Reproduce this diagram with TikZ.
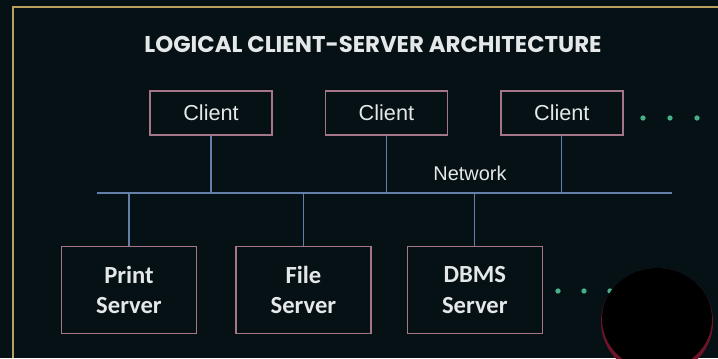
\documentclass[tikz,border=0pt]{standalone}
\usepackage{fontspec}
\setmainfont{Liberation Sans}
\newfontfamily\titlefont{Poppins}
\newfontfamily\serverfont{Carlito}
\usetikzlibrary{positioning}
\definecolor{bgcol}{RGB}{6,17,21}
\definecolor{framecol}{RGB}{185,160,95}
\definecolor{boxcol}{RGB}{165,118,138}
\definecolor{netcol}{RGB}{100,128,168}
\definecolor{txtcol}{RGB}{228,232,232}
\definecolor{dotcol}{RGB}{70,175,135}
\definecolor{rimcol}{RGB}{110,20,40}

\begin{document}
\begin{tikzpicture}[
  x=0.03cm, y=-0.03cm,
  node distance=1.56cm,
  clientbox/.style={draw=boxcol,line width=1.2pt,minimum width=3.66cm,minimum height=1.32cm,
    text=txtcol,font=\fontsize{18.5}{20}\selectfont},
  serverbox/.style={draw=boxcol,line width=1.2pt,minimum width=4.05cm,minimum height=2.61cm,
    text=txtcol,align=center,font=\serverfont\bfseries\fontsize{21}{26}\selectfont},
  netline/.style={draw=netcol,line width=1pt},
  dotty/.style={fill=dotcol,circle,inner sep=0pt,minimum size=4.5pt}
]

\useasboundingbox (0,0) rectangle (718,358);
\fill[bgcol] (0,0) rectangle (718,358);
\draw[framecol,line width=1.5pt] (718,7) -- (13,7) -- (13,358);

\node[text=txtcol,font=\titlefont\bfseries\fontsize{19.5}{22}\selectfont] (title) at (373,44) {LOGICAL CLIENT-SERVER ARCHITECTURE};

% clients
\node[clientbox] (c1) at (211,113) {Client};
\node[clientbox,right=of c1] (c2) {Client};
\node[clientbox,right=of c2] (c3) {Client};

% servers
\node[serverbox] (s1) at (129,290) {Print\\Server};
\node[serverbox,right=1.14cm of s1] (s2) {File\\Server};
\node[serverbox,right=1.05cm of s2] (s3) {DBMS\\Server};

% network
\coordinate (netL) at (97,193);
\coordinate (netR) at (672,193);
\draw[netline] (netL) -- (netR);
\node[text=txtcol,font=\fontsize{17}{19}\selectfont] (net) at (470,173) {Network};

\foreach \c in {c1,c2,c3}
  \draw[netline] (\c.south) -- (\c.south |- netL);
\foreach \s in {s1,s2,s3}
  \draw[netline] (\s.north) -- (\s.north |- netL);

% dots
\foreach \x in {643,670,697}
  \node[dotty] at (\x,118) {};
\foreach \x in {558,584,610}
  \node[dotty] at (\x,291) {};

\fill[rimcol] (657,322) ellipse (56 and 54);
\fill[black] (657,319) ellipse (55 and 51);

\end{tikzpicture}
\end{document}
